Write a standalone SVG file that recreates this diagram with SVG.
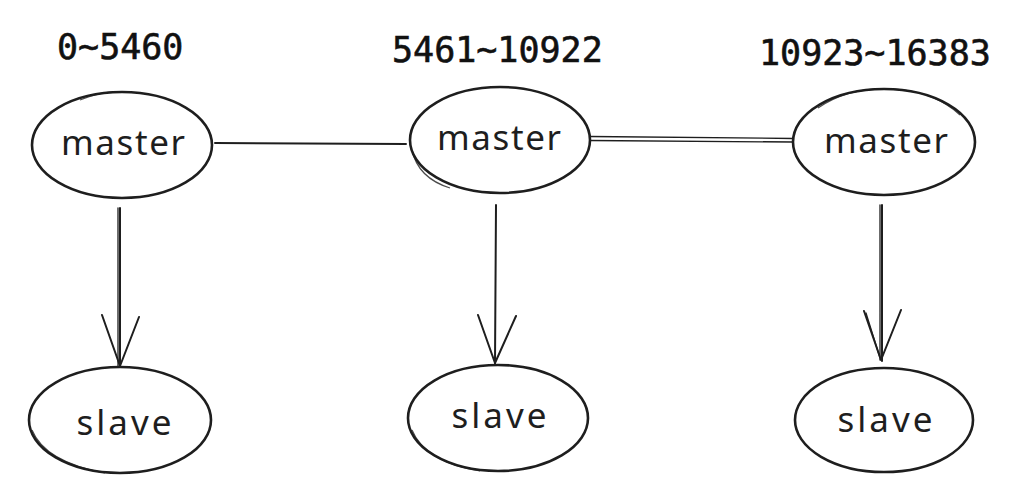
<svg xmlns="http://www.w3.org/2000/svg" width="1010" height="496" viewBox="0 0 1010 496">
<style>
.node{fill:#fff;stroke:#1e1e1e;stroke-width:2.6}
.sk{fill:none;stroke:#1e1e1e;stroke-width:1.2;opacity:.8}
.hand{font-family:"Noto Sans",sans-serif;font-size:35px;fill:#1e1e1e;text-anchor:middle}
.range{font-family:"DejaVu Sans Mono",monospace;font-size:35px;fill:#111;stroke:#111;stroke-width:0.6}
.conn{fill:none;stroke:#1e1e1e;stroke-width:2;stroke-linecap:round;stroke-linejoin:round}
.conn2{fill:none;stroke:#1e1e1e;stroke-width:1.3;stroke-linecap:round}
</style>
<rect width="1010" height="496" fill="#fff"/>
<g id="labels">
<text class="range" x="57" y="59">0~5460</text>
<text class="range" x="392" y="62">5461~10922</text>
<text class="range" x="759" y="65">10923~16383</text>
</g>
<g id="connectors">
<path class="conn" d="M215,143 L406,144"/>
<path class="conn2" d="M590,136.5 L793,138.5"/>
<path class="conn2" d="M590,140.5 L793,142"/>
<path class="conn" d="M120,208 L120,367 M102,315 L120,366 L139,317"/>
<path class="conn2" d="M118,208 L118,366"/>
<path class="conn" d="M496,205 L495,364 M478,315 L495,363 L516,316"/>
<path class="conn" d="M882,205 L882,361 M864,311 L881,360 L901,310"/>
<path class="conn2" d="M880,205 L880,360 M866,313 L880,358"/>
</g>
<g id="master1">
<ellipse class="node" cx="122" cy="145" rx="90" ry="53"/>
<path class="sk" d="M80,100 Q105,90 125,92"/>
<text class="hand" x="123" y="155" textLength="124" lengthAdjust="spacing">master</text>
</g>
<g id="master2">
<ellipse class="node" cx="500" cy="140" rx="90" ry="53"/>
<path class="sk" d="M412,150 Q418,178 450,188"/>
<text class="hand" x="499" y="150" textLength="124" lengthAdjust="spacing">master</text>
</g>
<g id="master3">
<ellipse class="node" cx="884" cy="142" rx="91" ry="53"/>
<path class="sk" d="M818,108 Q850,86 895,89 Q935,92 960,115"/>
<text class="hand" x="886" y="153" textLength="124" lengthAdjust="spacing">master</text>
</g>
<g id="slave1">
<ellipse class="node" cx="120" cy="420" rx="91" ry="53"/>
<path class="sk" d="M32,430 Q45,462 105,473"/>
<text class="hand" x="124" y="435" textLength="95" lengthAdjust="spacing">slave</text>
</g>
<g id="slave2">
<ellipse class="node" cx="498" cy="418" rx="90" ry="53"/>
<path class="sk" d="M412,430 Q425,462 480,471"/>
<text class="hand" x="499" y="428" textLength="95" lengthAdjust="spacing">slave</text>
</g>
<g id="slave3">
<ellipse class="node" cx="884" cy="420" rx="89" ry="52"/>
<text class="hand" x="885" y="432" textLength="95" lengthAdjust="spacing">slave</text>
</g>
</svg>
